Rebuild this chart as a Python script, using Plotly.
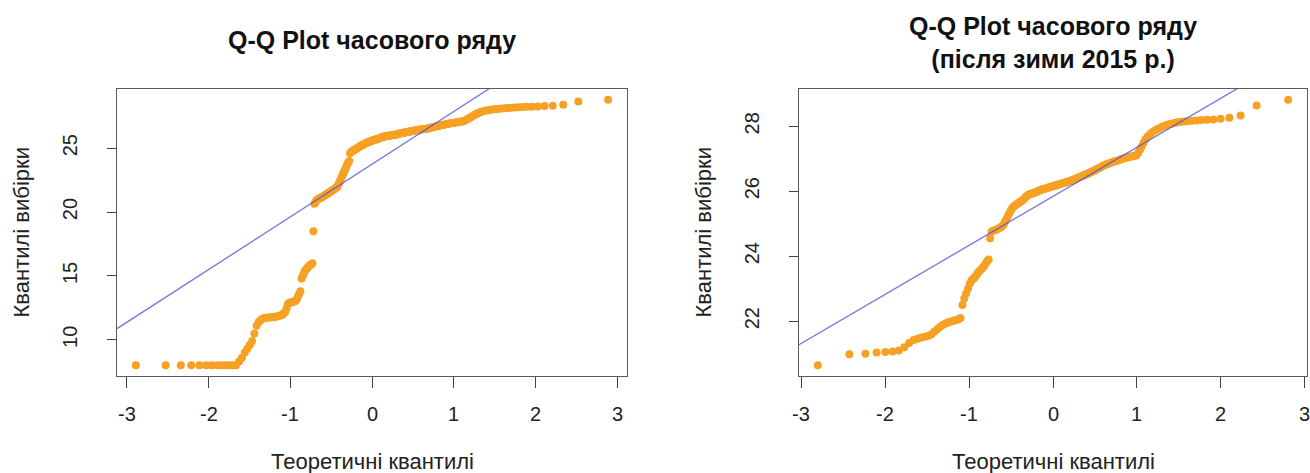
import numpy as np
import plotly.graph_objects as go
from statistics import NormalDist

# Sorted sample values of the full hourly series
full_sample = [
    8.0, 8.0, 8.0, 8.0, 8.0, 8.0, 8.0, 8.0, 8.0, 8.0, 8.0, 8.0, 8.0,
    8.3, 8.6, 9.0, 9.3, 9.6, 9.9, 10.5, 11.1, 11.4, 11.55, 11.65,
    11.7, 11.72, 11.74, 11.75, 11.76, 11.78, 11.8, 11.82, 11.85, 11.88, 11.92, 11.97,
    12.1, 12.2, 12.5, 12.8, 12.9,
    12.92, 12.95, 12.98, 13.0, 13.05,
    13.2, 13.4, 13.6, 13.8,
    14.8, 15.0, 15.2, 15.4, 15.5, 15.6, 15.7, 15.8, 15.85, 15.9, 16.0,
    18.5,
    20.65, 20.75, 20.92, 20.98,
    21.02, 21.06, 21.1, 21.14, 21.18, 21.22, 21.27, 21.32, 21.37, 21.42, 21.46,
    21.5, 21.55, 21.6, 21.65, 21.7, 21.74, 21.78, 21.83, 21.88, 21.94, 22.0,
    22.15, 22.3, 22.45, 22.6, 22.75, 22.9, 23.05, 23.2, 23.35, 23.5, 23.65, 23.8, 23.9, 24.0,
    24.6, 24.68, 24.74, 24.78, 24.82, 24.86, 24.9, 24.94,
    24.98, 25.02, 25.06, 25.1, 25.14,
    25.17, 25.2, 25.23, 25.26, 25.3,
    25.33, 25.36, 25.39, 25.42, 25.45,
    25.48, 25.5, 25.53, 25.55, 25.58,
    25.6, 25.62, 25.64, 25.66, 25.68,
    25.7, 25.72, 25.74, 25.76, 25.8,
    25.82, 25.84, 25.86, 25.88, 25.9,
    25.91, 25.92, 25.94, 25.95, 25.96,
    25.97, 25.98, 25.99, 26.0, 26.01,
    26.02, 26.03, 26.04, 26.05, 26.06,
    26.07, 26.09, 26.11, 26.13, 26.15,
    26.16, 26.17, 26.18, 26.2, 26.21,
    26.22, 26.24, 26.25, 26.27, 26.28,
    26.3, 26.31, 26.32, 26.33, 26.35,
    26.36, 26.37, 26.39, 26.4, 26.42,
    26.43, 26.44, 26.46, 26.47, 26.48,
    26.49, 26.5, 26.51, 26.51, 26.52,
    26.54, 26.56, 26.58, 26.6, 26.62,
    26.64, 26.66, 26.68, 26.7, 26.72,
    26.74, 26.76, 26.78, 26.8, 26.82,
    26.84, 26.86, 26.88, 26.9, 26.92,
    26.94, 26.95, 26.97, 26.98, 27.0,
    27.02, 27.03, 27.05, 27.06, 27.08,
    27.1, 27.14, 27.2, 27.28, 27.35, 27.43, 27.5, 27.58, 27.65, 27.72,
    27.8, 27.86, 27.9, 27.93, 27.96, 27.99, 28.02, 28.04, 28.06, 28.08,
    28.1, 28.12, 28.14, 28.16, 28.18, 28.2, 28.22, 28.24, 28.25, 28.27,
    28.3, 28.33, 28.4, 28.65, 28.8,
]

# Sorted sample values after the winter of 2015
after_sample = [
    20.64, 20.98, 21.0, 21.04, 21.05, 21.07, 21.1, 21.2, 21.33, 21.42,
    21.46, 21.5, 21.52, 21.55, 21.6, 21.68, 21.75, 21.82, 21.88, 21.92,
    21.96, 21.98, 22.0, 22.02, 22.04, 22.06, 22.1, 22.5, 22.7, 22.85,
    23.0, 23.15, 23.25, 23.3, 23.35, 23.42, 23.5, 23.55, 23.6, 23.66,
    23.7, 23.78, 23.85, 23.9, 24.55,
    24.75, 24.78, 24.8, 24.81, 24.83, 24.85, 24.87, 24.9, 24.93, 24.97,
    25.05, 25.12, 25.2, 25.28, 25.35, 25.42, 25.48, 25.52, 25.55, 25.58,
    25.61, 25.63, 25.65, 25.68, 25.7, 25.73, 25.76, 25.8, 25.84, 25.87,
    25.89, 25.91, 25.92, 25.93, 25.94,
    25.95, 25.97, 25.98, 26.0, 26.01, 26.02, 26.04, 26.05, 26.06, 26.07,
    26.08, 26.09, 26.1, 26.11, 26.12, 26.13, 26.14, 26.15,
    26.16, 26.17, 26.18, 26.19, 26.2, 26.21, 26.22,
    26.23, 26.24, 26.25, 26.26, 26.27,
    26.28, 26.29, 26.3, 26.31, 26.32,
    26.33, 26.35, 26.36, 26.38, 26.39,
    26.41, 26.42, 26.44, 26.45, 26.47,
    26.48, 26.5, 26.51, 26.53, 26.54,
    26.56, 26.58, 26.6, 26.61, 26.63,
    26.65, 26.67, 26.69, 26.71, 26.73,
    26.75, 26.77, 26.79, 26.81, 26.82,
    26.84, 26.86, 26.87, 26.89, 26.9,
    26.92, 26.93, 26.94, 26.96, 26.98,
    26.99, 27.0, 27.02, 27.03, 27.05,
    27.06, 27.07, 27.08, 27.09, 27.1,
    27.18, 27.28, 27.38, 27.5, 27.6, 27.68, 27.74, 27.8, 27.85, 27.89,
    27.92, 27.96, 28.0, 28.03, 28.06, 28.08, 28.1, 28.12, 28.14, 28.15,
    28.16, 28.17, 28.18, 28.19, 28.2, 28.21, 28.23, 28.26, 28.33, 28.64,
    28.82,
]

x_ticks = [-3, -2, -1, 0, 1, 2, 3]
full_y_ticks = [10, 15, 20, 25]
after_y_ticks = [22, 24, 26, 28]

titles = ["<b>Q-Q Plot часового ряду</b>",
          "<b>Q-Q Plot часового ряду<br>(після зими 2015 р.)</b>"]
x_title = "Теоретичні квантилі"
y_title = "Квантилі вибірки"

W, H = 1310, 473
FONT = "Liberation Sans, Arial, Helvetica, sans-serif"
POINT_COLOR = "rgb(246,161,36)"
LINE_COLOR = "rgba(80,80,225,0.8)"
TEXT_COLOR = "#222"

nd = NormalDist()


def ppoints(n):
    a = 0.375 if n <= 10 else 0.5
    return np.array([nd.inv_cdf((i + 1 - a) / (n + 1 - 2 * a)) for i in range(n)])


def padded(lo, hi):
    d = (hi - lo) * 0.04
    return [lo - d, hi + d]


def labels(vals):
    # plain hyphen for negatives, as in base R graphics
    return [str(v) for v in vals]


# plot boxes in pixels: (left, right, top, bottom)
boxes = [(117, 627, 89, 376), (799, 1307, 89, 376)]
samples = [full_sample, after_sample]
yticks = [full_y_ticks, after_y_ticks]

fig = go.Figure()
annotations = []

for k, (sample, box, yt, title) in enumerate(zip(samples, boxes, yticks, titles), start=1):
    y = np.sort(np.array(sample, dtype=float))
    x = ppoints(len(y))
    xr = padded(x.min(), x.max())
    yr = padded(y.min(), y.max())

    # reference line through the first and third quartiles
    q1, q3 = np.quantile(y, [0.25, 0.75])
    t1, t3 = nd.inv_cdf(0.25), nd.inv_cdf(0.75)
    slope = (q3 - q1) / (t3 - t1)
    icpt = q1 - slope * t1

    xa = "x" if k == 1 else f"x{k}"
    ya = "y" if k == 1 else f"y{k}"

    fig.add_trace(go.Scatter(
        x=x, y=y, mode="markers", xaxis=xa, yaxis=ya,
        marker=dict(size=8, color=POINT_COLOR, line=dict(width=0)),
        showlegend=False, hoverinfo="skip"))
    fig.add_trace(go.Scatter(
        x=xr, y=[icpt + slope * xr[0], icpt + slope * xr[1]],
        mode="lines", xaxis=xa, yaxis=ya,
        line=dict(color=LINE_COLOR, width=1.3),
        showlegend=False, hoverinfo="skip"))

    left, right, top, bottom = box
    xdom = [left / W, right / W]
    ydom = [1 - bottom / H, 1 - top / H]
    axis_common = dict(
        showline=True, linecolor="#5a5a5a", linewidth=1.3, mirror=True,
        ticks="outside", tickcolor="#444", tickwidth=1.2,
        showgrid=False, zeroline=False,
        tickfont=dict(family=FONT, size=20, color=TEXT_COLOR),
    )
    xkey = "xaxis" if k == 1 else f"xaxis{k}"
    ykey = "yaxis" if k == 1 else f"yaxis{k}"
    fig.update_layout({
        # x tick labels are placed as annotations so the last one near the
        # page edge is not dropped
        xkey: dict(domain=xdom, range=xr, anchor=ya, tickmode="array",
                   tickvals=x_ticks, showticklabels=False,
                   ticklen=11, **axis_common),
        ykey: dict(domain=ydom, range=yr, anchor=xa, tickmode="array",
                   tickvals=yt, ticktext=labels(yt),
                   ticklen=9, tickangle=-90, ticklabelstandoff=22, **axis_common),
    })

    for v, t in zip(x_ticks, labels(x_ticks)):
        annotations.append(dict(
            text=t, x=v, xref=xa, y=1 - 414 / H, yref="paper",
            showarrow=False, xanchor="center", yanchor="middle",
            font=dict(family=FONT, size=20, color=TEXT_COLOR)))

    cx = (left + right) / 2
    annotations.append(dict(
        text=title, x=cx / W, y=1 - (40 if k == 1 else 42.5) / H,
        xref="paper", yref="paper", showarrow=False,
        xanchor="center", yanchor="middle",
        font=dict(family=FONT, size=25, color="#111")))
    annotations.append(dict(
        text=x_title, x=cx / W, y=1 - 461 / H,
        xref="paper", yref="paper", showarrow=False,
        xanchor="center", yanchor="middle",
        font=dict(family=FONT, size=22, color=TEXT_COLOR)))
    annotations.append(dict(
        text=y_title, x=(left - 96) / W, y=1 - ((top + bottom) / 2) / H,
        xref="paper", yref="paper", showarrow=False, textangle=-90,
        xanchor="center", yanchor="middle",
        font=dict(family=FONT, size=22, color=TEXT_COLOR)))

fig.update_layout(
    width=W, height=H,
    margin=dict(l=0, r=0, t=0, b=0),
    paper_bgcolor="white", plot_bgcolor="white",
    annotations=annotations,
    font=dict(family=FONT),
)

fig.write_html("out.html", include_plotlyjs=True, full_html=True,
               config={"displayModeBar": False})
